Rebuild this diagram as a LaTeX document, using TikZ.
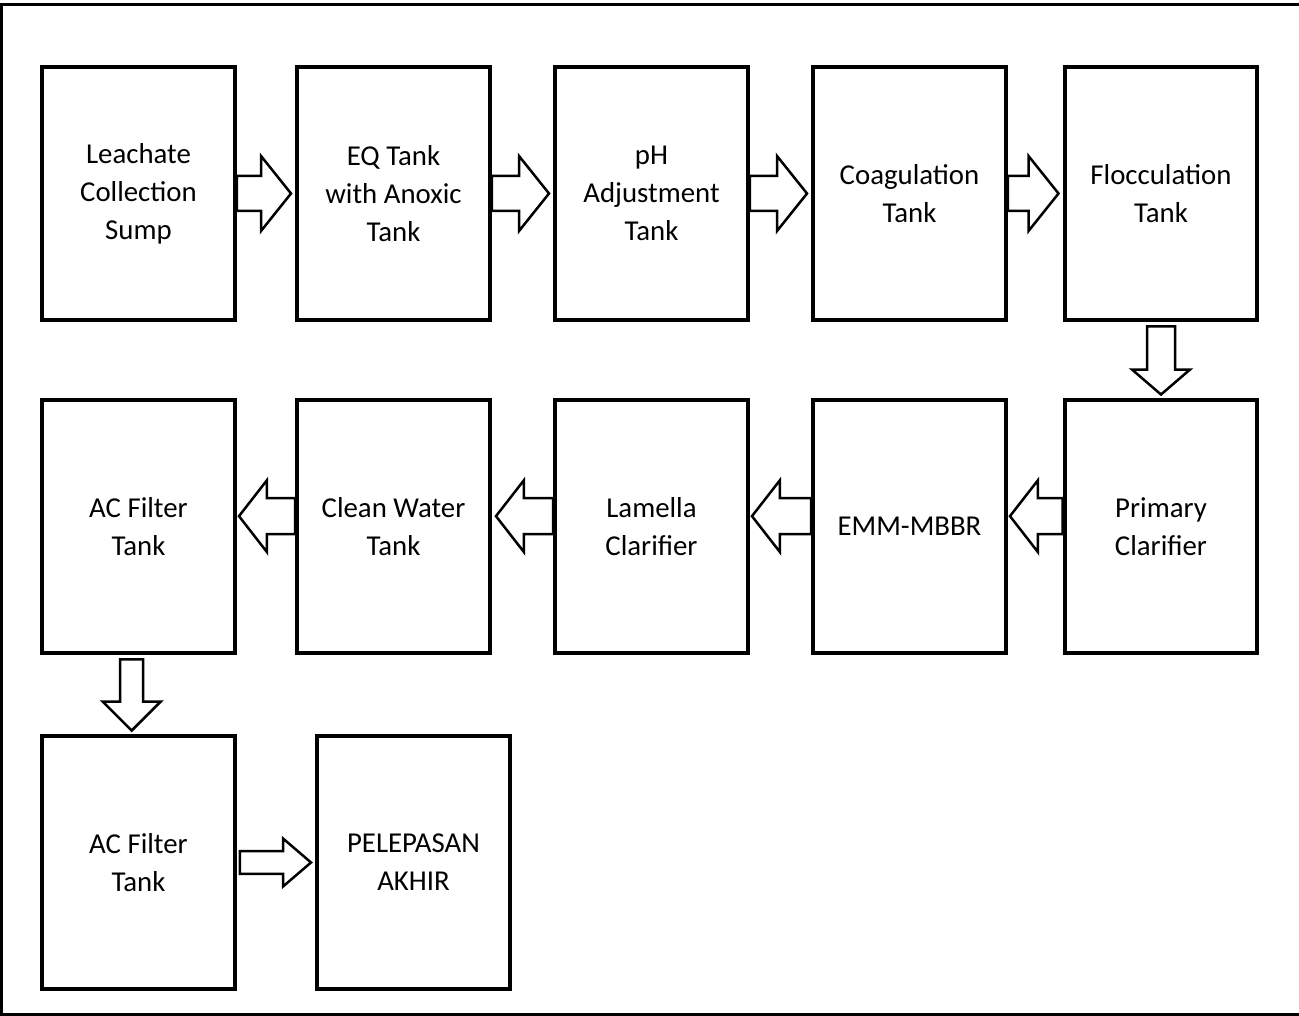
\documentclass[tikz,border=0pt]{standalone}
\usepackage{fontspec}
\setmainfont{Carlito}
\usetikzlibrary{calc}
\tikzset{
  tank/.style={draw, line width=0.08cm, minimum width=3.86cm, minimum height=5.08cm,
    align=center, inner sep=2pt, font=\fontsize{16.4}{21.6}\selectfont},
  fatline/.style={draw, line width=0.05cm, fill=white, line join=miter}
}
% block arrow: from, to, gap at start, gap at end, shaft half width, head half width, head length
\newcommand{\fatarrow}[7]{%
  \path ($(#1)!#3!(#2)$) coordinate (fa-a) ($(#2)!#4!(#1)$) coordinate (fa-b);
  \path ($(fa-b)!#7!(fa-a)$) coordinate (fa-h);
  \draw[fatline] ($(fa-a)!#5!90:(fa-b)$) -- ($(fa-h)!#5!-90:(fa-a)$) -- ($(fa-h)!#6!-90:(fa-a)$)
    -- (fa-b) -- ($(fa-h)!#6!90:(fa-a)$) -- ($(fa-h)!#5!90:(fa-a)$) -- ($(fa-a)!#5!-90:(fa-b)$) -- cycle;
}

\begin{document}
\begin{tikzpicture}[x=0.02cm,y=-0.02cm]
\useasboundingbox (0,0) rectangle (1299,1016);
\draw [line width=0.06cm] (1305,5) -- (1.5,5) -- (1.5,1014.5) -- (1305,1014.5);
% first row
\node[tank] (leach) at (138.5,193.5) {Leachate\\Collection\\Sump};
\node[tank] (eq) at (393.5,193.5) {EQ Tank\\with Anoxic\\Tank};
\node[tank] (ph) at (651.5,193.5) {pH\\Adjustment\\Tank};
\node[tank] (coag) at (909.5,193.5) {Coagulation\\Tank};
\node[tank] (floc) at (1161,193.5) {Flocculation\\Tank};
% second row
\node[tank] (acf) at (138.5,526.5) {AC Filter\\Tank};
\node[tank] (clean) at (393.5,526.5) {Clean Water\\Tank};
\node[tank] (lam) at (651.5,526.5) {Lamella\\Clarifier};
\node[tank] (mbbr) at (909.5,526.5) {EMM-MBBR};
\node[tank] (prim) at (1161,526.5) {Primary\\Clarifier};
% third row
\node[tank] (acf2) at (138.5,862.5) {AC Filter\\Tank};
\node[tank] (final) at (413.5,862.5) {PELEPASAN\\AKHIR};
% arrows
\fatarrow{leach.east}{eq.west}{0pt}{0.08cm}{0.35cm}{0.75cm}{0.6cm}
\fatarrow{eq.east}{ph.west}{0pt}{0.08cm}{0.35cm}{0.75cm}{0.6cm}
\fatarrow{ph.east}{coag.west}{0pt}{0.08cm}{0.35cm}{0.75cm}{0.6cm}
\fatarrow{coag.east}{floc.west}{0pt}{0.08cm}{0.35cm}{0.75cm}{0.6cm}
\fatarrow{floc.south}{prim.north}{0.08cm}{0.06cm}{0.28cm}{0.58cm}{0.5cm}
\fatarrow{prim.174}{mbbr.6}{0pt}{0.04cm}{0.36cm}{0.72cm}{0.56cm}
\fatarrow{mbbr.174}{lam.6}{0pt}{0.04cm}{0.36cm}{0.72cm}{0.56cm}
\fatarrow{lam.174}{clean.6}{0pt}{0.08cm}{0.36cm}{0.72cm}{0.56cm}
\fatarrow{clean.174}{acf.6}{0pt}{0.04cm}{0.36cm}{0.72cm}{0.56cm}
\fatarrow{acf.267}{acf2.93}{0.08cm}{0.06cm}{0.23cm}{0.58cm}{0.58cm}
\fatarrow{acf2.east}{final.west}{0.06cm}{0.08cm}{0.23cm}{0.48cm}{0.56cm}
\end{tikzpicture}
\end{document}
